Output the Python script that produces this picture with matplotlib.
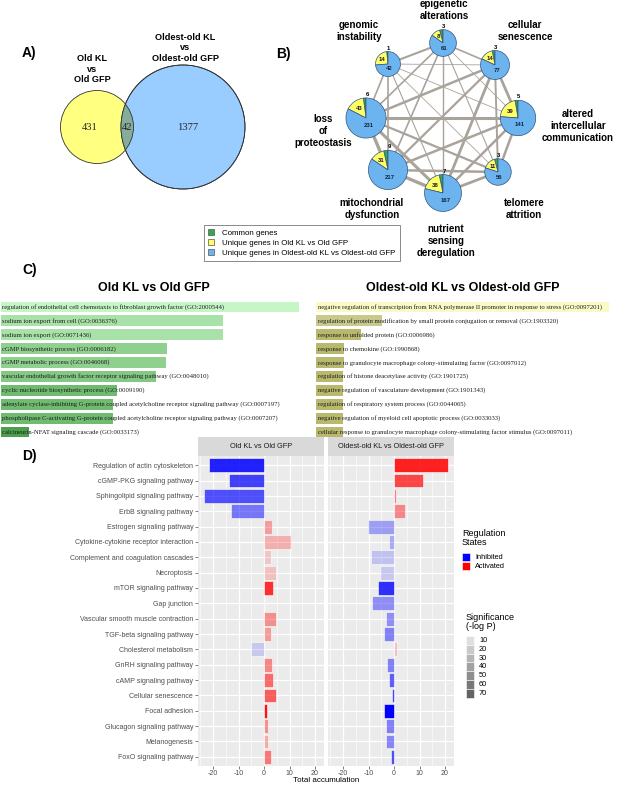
import matplotlib.pyplot as plt
from matplotlib.patches import Circle, Rectangle, Patch
import numpy as np

plt.rcParams['font.family'] = 'Liberation Sans'
plt.rcParams['axes.unicode_minus'] = False

W, H = 617, 785

# ---------------- data ----------------
# A) Venn
venn_counts = [431, 42, 1377]
venn_titles = ['Old KL\nvs\nOld GFP', 'Oldest-old KL\nvs\nOldest-old GFP']

# B) hallmarks of ageing
hallmarks = ['genomic\ninstability', 'epigenetic\nalterations', 'cellular\nsenescence',
             'altered\nintercellular\ncommunication', 'telomere\nattrition',
             'nutrient\nsensing\nderegulation', 'mitochondrial\ndysfunction',
             'loss\nof\nproteostasis']
common = [1, 3, 3, 5, 3, 7, 9, 6]
uniq_old = [14, 8, 14, 39, 11, 38, 31, 43]
uniq_oldest = [42, 61, 77, 141, 56, 167, 217, 231]
# (node a, node b, link weight)
links = [(0, 1, 1.5), (0, 2, 0.6), (0, 3, 0.6), (0, 4, 0.6), (0, 5, 0.8), (0, 6, 1.2), (0, 7, 1.2),
         (1, 2, 1.2), (1, 3, 0.6), (1, 4, 0.8), (1, 5, 1.0), (1, 6, 1.2), (1, 7, 1.2),
         (2, 3, 2.0), (2, 4, 1.4), (2, 5, 2.0), (2, 6, 1.6), (2, 7, 1.8),
         (3, 4, 1.8), (3, 5, 1.8), (3, 6, 1.8), (3, 7, 2.2),
         (4, 5, 2.0), (4, 6, 1.8), (4, 7, 1.6),
         (5, 6, 2.4), (5, 7, 2.2), (6, 7, 2.4)]
legend_B = ['Common genes', 'Unique genes in Old KL vs Old GFP',
            'Unique genes in Oldest-old KL vs Oldest-old GFP']

# C) GO terms
go_old = ['regulation of endothelial cell chemotaxis to fibroblast growth factor (GO:2000544)',
          'sodium ion export from cell (GO:0036376)',
          'sodium ion export (GO:0071436)',
          'cGMP biosynthetic process (GO:0006182)',
          'cGMP metabolic process (GO:0046068)',
          'vascular endothelial growth factor receptor signaling pathway (GO:0048010)',
          'cyclic nucleotide biosynthetic process (GO:0009190)',
          'adenylate cyclase-inhibiting G-protein coupled acetylcholine receptor signaling pathway (GO:0007197)',
          'phospholipase C-activating G-protein coupled acetylcholine receptor signaling pathway (GO:0007207)',
          'calcineurin-NFAT signaling cascade (GO:0033173)']
score_old = [298, 222, 222, 166, 165, 155, 116, 112, 112, 28]
go_oldest = ['negative regulation of transcription from RNA polymerase II promoter in response to stress (GO:0097201)',
             'regulation of protein modification by small protein conjugation or removal (GO:1903320)',
             'response to unfolded protein (GO:0006986)',
             'response to chemokine (GO:1990868)',
             'response to granulocyte macrophage colony-stimulating factor (GO:0097012)',
             'regulation of histone deacetylase activity (GO:1901725)',
             'negative regulation of vasculature development (GO:1901343)',
             'regulation of respiratory system process (GO:0044065)',
             'negative regulation of myeloid cell apoptotic process (GO:0033033)',
             'cellular response to granulocyte macrophage colony-stimulating factor stimulus (GO:0097011)']
score_oldest = [293, 66, 45, 28, 28, 27, 27, 27, 27, 27]

# D) KEGG pathways
pathways = ['Regulation of actin cytoskeleton', 'cGMP-PKG signaling pathway',
            'Sphingolipid signaling pathway', 'ErbB signaling pathway',
            'Estrogen signaling pathway', 'Cytokine-cytokine receptor interaction',
            'Complement and coagulation cascades', 'Necroptosis', 'mTOR signaling pathway',
            'Gap junction', 'Vascular smooth muscle contraction', 'TGF-beta signaling pathway',
            'Cholesterol metabolism', 'GnRH signaling pathway', 'cAMP signaling pathway',
            'Cellular senescence', 'Focal adhesion', 'Glucagon signaling pathway',
            'Melanogenesis', 'FoxO signaling pathway']
acc_old = [-21.8, -13.6, -23.7, -12.9, 3.2, 10.5, 2.8, 4.6, 3.4, 0.2,
           4.8, 2.8, -5.2, 3.2, 3.7, 4.8, 1.2, 1.7, 1.4, 2.7]
acc_oldest = [21.3, 11.4, 0.8, 4.3, -10.2, -2.1, -8.9, -5.5, -6.2, -8.5,
              -3.1, -3.9, 1.2, -2.8, -2.0, -0.8, -4.0, -3.0, -3.2, -1.2]
sig_old = [64, 53, 48, 35, 21, 15, 7, 9, 59, 7, 26, 22, 7, 29, 39, 43, 69, 26, 17, 34]
sig_oldest = [64, 51, 31, 29, 21, 17, 9, 7, 59, 27, 26, 31, 9, 31, 43, 53, 75, 31, 29, 48]
facets = ['Old KL vs Old GFP', 'Oldest-old KL vs Oldest-old GFP']
sig_breaks = [10, 20, 30, 40, 50, 60, 70]
SIG_LIM = (3, 75)


def frac(x0, y0, x1, y1):
    # pixel box (top-left origin) -> figure fraction
    return [x0 / W, 1 - y1 / H, (x1 - x0) / W, (y1 - y0) / H]


def sig_alpha(s):
    return 0.1 + 0.9 * (s - SIG_LIM[0]) / (SIG_LIM[1] - SIG_LIM[0])


fig = plt.figure(figsize=(W / 100, H / 100), dpi=100)
cv = fig.add_axes([0, 0, 1, 1])
cv.set_xlim(0, W)
cv.set_ylim(H, 0)
cv.axis('off')

# ---------------- A ----------------
cv.text(29, 53, 'A)', fontsize=10, fontweight='bold', ha='center', va='center')
yel = Circle((97, 127), 36.5, fc='#ffff80', ec='#333333', lw=0.6)
blu = Circle((183, 127), 62, fc='#99ccff', ec='#333333', lw=0.6)
cv.add_patch(yel)
cv.add_patch(blu)
ov = Circle((97, 127), 36.5, fc='#86ad9b', ec='#333333', lw=0.6)
cv.add_patch(ov)
ov.set_clip_path(blu)
cv.add_patch(Circle((183, 127), 62, fc='none', ec='#333333', lw=0.6))
for x, n in zip([90, 127, 188], venn_counts):
    cv.text(x, 128, str(n), fontsize=7.6, family='Liberation Serif', ha='center', va='center',
            color='#222222')
cv.text(92, 69, venn_titles[0], fontsize=6.6, fontweight='bold', ha='center', va='center',
        linespacing=1.25)
cv.text(185, 48, venn_titles[1], fontsize=6.6, fontweight='bold', ha='center', va='center',
        linespacing=1.25)

# ---------------- B ----------------
cv.text(283, 54, 'B)', fontsize=10, fontweight='bold', ha='center', va='center')
node_xy = [(388, 64), (443, 43), (495, 65), (518, 118), (498, 172), (443, 193), (388, 170), (366, 118)]
label_xy = [(359, 31), (444, 10), (525, 31), (578, 126), (524, 209), (446, 241), (372, 209), (323, 131)]
for a, b, w in links:
    cv.plot([node_xy[a][0], node_xy[b][0]], [node_xy[a][1], node_xy[b][1]],
            color='#aaa39b', lw=w, solid_capstyle='round', zorder=1)
for lab, (x, y) in zip(hallmarks, label_xy):
    cv.text(x, y, lab, fontsize=7, fontweight='bold', ha='center', va='center', linespacing=1.25)

pie_cols = ['#33a852', '#ffff66', '#6cb4f0']
for i in range(8):
    cx, cy = node_xy[i]
    vals = [common[i], uniq_old[i], uniq_oldest[i]]
    tot = sum(vals)
    r = 3.7 * tot ** 0.3
    pa = fig.add_axes(frac(cx - 1.3 * r, cy - 1.3 * r, cx + 1.3 * r, cy + 1.3 * r))
    pa.pie(vals, colors=pie_cols, startangle=90, counterclock=True,
           wedgeprops=dict(edgecolor='#34527a', linewidth=0.5))
    pa.set_xlim(-1.3, 1.3)
    pa.set_ylim(-1.3, 1.3)
    pa.axis('off')
    th = np.deg2rad(90 + 360 * (common[i] + uniq_old[i] / 2) / tot)
    pa.text(0.05, 1 + 3.5 / r, str(common[i]), fontsize=4.3, fontweight='bold',
            ha='center', va='center')
    pa.text(0.58 * np.cos(th), 0.58 * np.sin(th), str(uniq_old[i]), fontsize=4.3,
            fontweight='bold', ha='center', va='center', color='#1a1a2a')
    pa.text(0.12, -0.38, str(uniq_oldest[i]), fontsize=4.3, fontweight='bold',
            ha='center', va='center', color='#14233c')

hB = [Patch(fc=c, ec='#555555', lw=0.5) for c in pie_cols]
lg = cv.legend(hB, legend_B, loc='upper left', bbox_to_anchor=(204 / W, 1 - 225 / H),
               bbox_transform=fig.transFigure, fontsize=5.7, frameon=True, fancybox=False,
               edgecolor='#555555', handlelength=0.75, handleheight=0.75, handletextpad=1.0,
               labelspacing=0.3, borderpad=0.55, borderaxespad=0)
lg.get_frame().set_linewidth(0.6)

# ---------------- C ----------------
cv.text(30, 270, 'C)', fontsize=10, fontweight='bold', ha='center', va='center')
cv.text(154, 288, 'Old KL vs Old GFP', fontsize=9, fontweight='bold', ha='center', va='center')
cv.text(463, 288, 'Oldest-old KL vs Oldest-old GFP', fontsize=9, fontweight='bold',
        ha='center', va='center')

green_cols = ['#c6f6c6', '#a8e2a8', '#a8e2a8', '#8fd08f', '#8fd08f', '#83c883',
              '#6fbb6f', '#6fbb6f', '#6fbb6f', '#4c9f4c']
olive_cols = ['#fafac6', '#c9c98c', '#b9b96e', '#b9b96e', '#b9b96e', '#b9b96e',
              '#b9b96e', '#b9b96e', '#b9b96e', '#b9b96e']
for box, xmax, terms, scores, cols in [((1, 300, 306, 439), 305, go_old, score_old, green_cols),
                                        ((316, 300, 616, 439), 300, go_oldest, score_oldest, olive_cols)]:
    axc = fig.add_axes(frac(*box))
    yy = np.arange(len(terms))
    axc.barh(yy, scores, height=0.78, color=cols)
    for y, t in zip(yy, terms):
        axc.text(1.5, y, t, fontsize=4.75, family='Liberation Serif', va='center', ha='left',
                 color='#1a1a1a')
    axc.set_xlim(0, xmax)
    axc.set_ylim(len(terms) - 0.5, -0.5)
    axc.axis('off')

# ---------------- D ----------------
cv.text(29, 456, 'D)', fontsize=10, fontweight='bold', ha='center', va='center')
rng = min(acc_old + acc_oldest), max(acc_old + acc_oldest)
pad = 0.05 * (rng[1] - rng[0])
xlim = (rng[0] - pad, rng[1] + pad)
yy = np.arange(len(pathways))
for k, (x0, x1, vals, sigs) in enumerate([(198, 324, acc_old, sig_old),
                                          (328, 454, acc_oldest, sig_oldest)]):
    cv.add_patch(Rectangle((x0, 437), x1 - x0, 19, fc='#d9d9d9', ec='none'))
    cv.text((x0 + x1) / 2, 446.5, facets[k], fontsize=5.3, color='#1a1a1a', ha='center', va='center')
    ax = fig.add_axes(frac(x0, 456, x1, 766))
    ax.set_facecolor('#ebebeb')
    fc = [(0, 0, 1, sig_alpha(s)) if v < 0 else (1, 0, 0, sig_alpha(s)) for v, s in zip(vals, sigs)]
    ax.barh(yy, vals, height=0.9, color=fc, edgecolor='white', linewidth=0.4, zorder=3)
    ax.set_xlim(*xlim)
    ax.set_ylim(len(pathways) - 0.4, -0.6)
    ax.set_xticks([-20, -10, 0, 10, 20])
    ax.set_xticks([-25, -15, -5, 5, 15], minor=True)
    ax.set_yticks(yy)
    ax.grid(True, which='major', color='white', lw=0.9, zorder=0)
    ax.grid(True, which='minor', axis='x', color='white', lw=0.4, zorder=0)
    ax.set_axisbelow(True)
    for s in ax.spines.values():
        s.set_visible(False)
    ax.tick_params(axis='x', labelsize=5, colors='#4d4d4d', length=2, width=0.5, pad=0.8)
    ax.tick_params(axis='x', which='minor', length=0)
    if k == 0:
        ax.set_yticklabels(pathways)
        ax.tick_params(axis='y', labelsize=5, colors='#4d4d4d', length=2, width=0.5, pad=1.5)
    else:
        ax.set_yticklabels([])
        ax.tick_params(axis='y', length=0)
cv.text(326, 780.5, 'Total accumulation', fontsize=5.8, ha='center', va='center')

# legends for D
cv.text(462, 538, 'Regulation\nStates', fontsize=6.5, ha='left', va='center', linespacing=1.1)
for y, c, t in [(553, (0, 0, 1), 'Inhibited'), (562, (1, 0, 0), 'Activated')]:
    cv.add_patch(Rectangle((462, y), 8, 8, fc=c, ec='white', lw=0.4))
    cv.text(475, y + 4.2, t, fontsize=5.3, ha='left', va='center')
cv.text(466, 622, 'Significance\n(-log P)', fontsize=6.5, ha='left', va='center', linespacing=1.1)
for j, b in enumerate(sig_breaks):
    y = 636 + j * 8.8
    cv.add_patch(Rectangle((466, y), 8, 8.8, fc=(0.35, 0.35, 0.35, sig_alpha(b)), ec='white', lw=0.4))
    cv.text(479, y + 4.6, str(b), fontsize=5.3, ha='left', va='center')

fig.savefig('out.png', dpi=100)
